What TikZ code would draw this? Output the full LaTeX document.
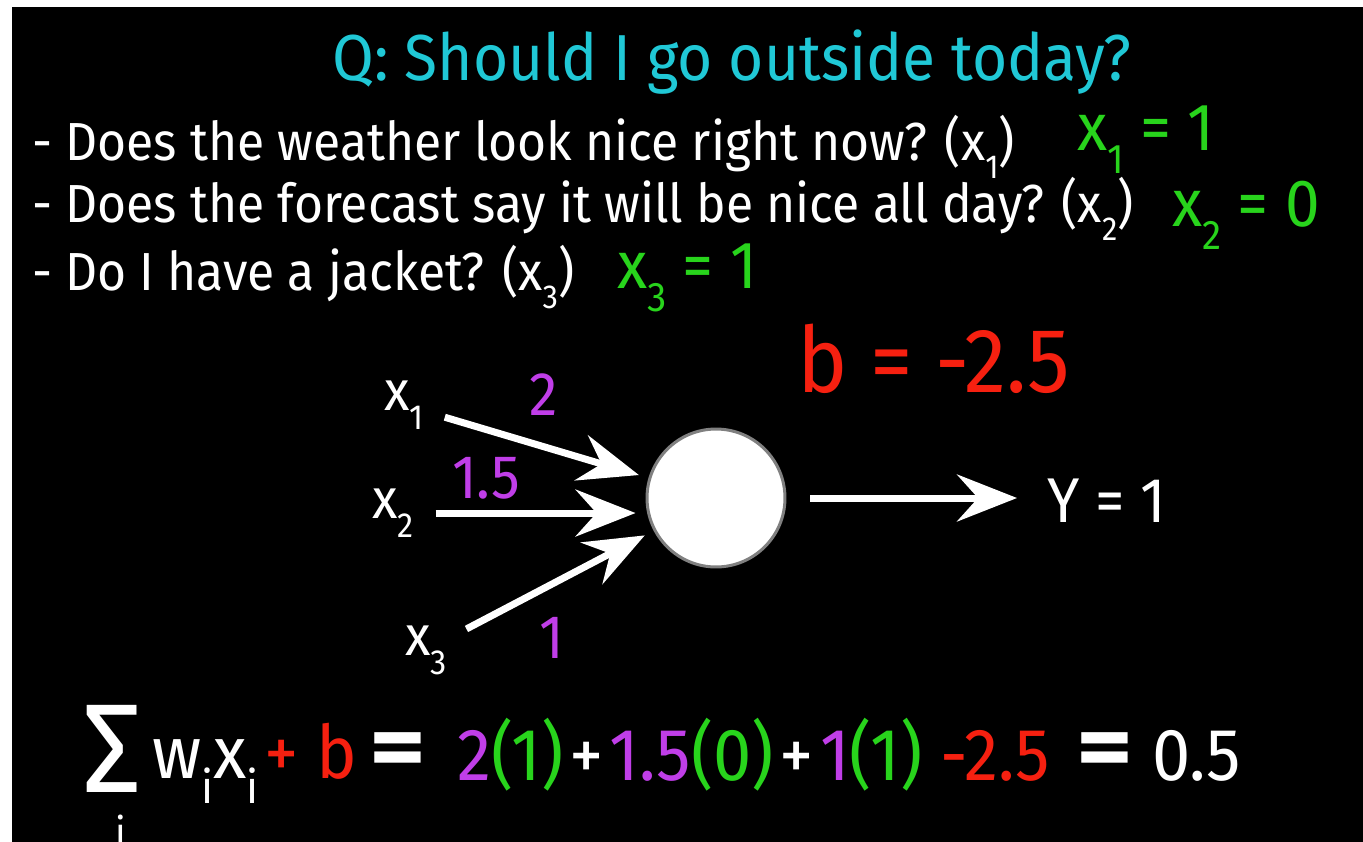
\documentclass[tikz,border=0pt]{standalone}
\usepackage{fontspec}
\setmainfont{Fira Sans}[FakeStretch=0.93]
\usetikzlibrary{arrows.meta}

\definecolor{qcyan}{RGB}{32,200,214}
\definecolor{xgreen}{RGB}{40,212,28}
\definecolor{wpurple}{RGB}{192,62,232}
\definecolor{bred}{RGB}{246,32,16}
\newcommand{\lo}[1]{\raisebox{-0.35em}{\scalebox{0.62}{#1}}}
\newcommand{\bigeq}{\scalebox{1.6}[1.25]{\bfseries =}}
\newcommand{\pl}{\hspace{0.08em}+\hspace{0.08em}}

\begin{document}
\begin{tikzpicture}[
  x=0.02cm, y=-0.02cm,
  every node/.style={inner sep=1pt, text=white},
  bw/.style={anchor=base west},
  blt/.style={bw, font=\fontsize{30.5}{34}\selectfont},
  ans/.style={bw, text=xgreen, font=\fontsize{38}{40}\selectfont},
  inp/.style={bw, font=\fontsize{32}{35}\selectfont},
  wt/.style={bw, text=wpurple, font=\fontsize{35}{38}\selectfont},
  eq/.style={bw, font=\fontsize{42}{46}\selectfont},
  nrn/.style={circle, fill=white, draw=black!50, line width=0.06cm,
              minimum size=2.76cm, inner sep=0pt},
  inarr/.style={-{Stealth[length=1.2cm, width=0.94cm, inset=0.42cm]},
                draw=white, line width=0.14cm, shorten <=0.4cm, shorten >=0.2cm},
  outarr/.style={inarr, shorten <=0.48cm, shorten >=0.56cm},
]
  \useasboundingbox (0,0) rectangle (1363,842);
  \fill[white] (0,0) rectangle (1363,842);
  \fill[black] (12,7) rectangle (1363,842);

  % question and inputs
  \node[anchor=base, text=qcyan, font=\fontsize{37}{40}\selectfont] (ttl) at (732,80)
    {Q: Should I go outside today?};
  \node[blt] (q1) at (30,160) {- Does the weather look nice right now? (x\lo{1})};
  \node[blt] (q2) at (30,222) {- Does the forecast say it will be nice all day? (x\lo{2})};
  \node[blt] (q3) at (30,290) {- Do I have a jacket? (x\lo{3})};
  \node[ans] (a1) at (1075,150) {x\lo{1} = 1};
  \node[ans] (a2) at (1170,226) {x\lo{2} = 0};
  \node[ans] (a3) at (615,288) {x\lo{3} = 1};
  \node[bw, text=bred, font=\fontsize{52}{56}\selectfont] (bias) at (795,392) {b = -2.5};

  % perceptron
  \node[nrn] (cell) at (716,498) {};
  \node[inp] (x1) at (382,410) {x\lo{1}};
  \node[inp] (x2) at (370,518) {x\lo{2}};
  \node[inp] (x3) at (403,655) {x\lo{3}};
  \node[wt] (w1) at (527,415) {2};
  \node[wt] (w2) at (450,498) {1.5};
  \node[wt] (w3) at (537,658) {1};
  \node[bw, font=\fontsize{36}{39}\selectfont] (y) at (1045,522) {Y = 1};
  \draw[inarr] (x1) -- (cell);
  \draw[inarr] (x2.east) -- (x2.east -| cell.west);
  \draw[inarr] (x3) -- (cell);
  \draw[outarr] (cell.east) -- (cell.east -| y.west);

  % weighted sum
  \node[bw, font=\fontsize{72}{74}\selectfont] (sig) at (80,792) {Σ};
  \node[bw, font=\fontsize{23}{25}\selectfont] (idx) at (113,846) {i};
  \node[eq] (wx) at (150,778) {w\lo{i}x\lo{i}};
  \node[eq, text=bred] (pb) at (262,778) {+ b};
  \node[eq] (e1) at (367,778) {\bigeq};
  \node[eq] (sum) at (455,780) {\textcolor{wpurple}{2}\textcolor{xgreen}{(1)}\pl
    \textcolor{wpurple}{1.5}\textcolor{xgreen}{(0)}\pl
    \textcolor{wpurple}{1}\textcolor{xgreen}{(1)} \textcolor{bred}{-2.5}};
  \node[eq] (e2) at (1074,778) {\bigeq};
  \node[eq] (res) at (1150,780) {0.5};
\end{tikzpicture}
\end{document}
